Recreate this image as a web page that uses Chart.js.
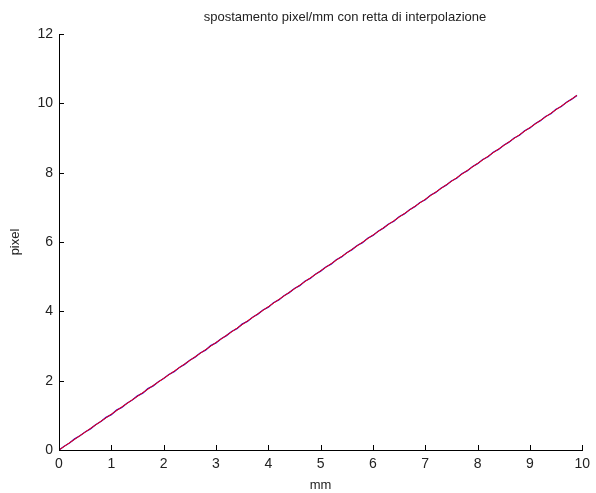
<!DOCTYPE html>
<html>
<head>
<meta charset="utf-8">
<script src="https://cdn.jsdelivr.net/npm/chart.js@4/dist/chart.umd.min.js"></script>
<style>
  html, body { margin: 0; padding: 0; background: #fff; }
  #wrap { width: 596px; height: 493px; }
</style>
</head>
<body>
<div id="wrap"><canvas id="c" width="596" height="493"></canvas></div>
<script>
// Measured displacement (mm -> pixel)
const mm = [0.0,0.1,0.2,0.3,0.4,0.5,0.6,0.7,0.8,0.9,
            1.0,1.1,1.2,1.3,1.4,1.5,1.6,1.7,1.8,1.9,
            2.0,2.1,2.2,2.3,2.4,2.5,2.6,2.7,2.8,2.9,
            3.0,3.1,3.2,3.3,3.4,3.5,3.6,3.7,3.8,3.9,
            4.0,4.1,4.2,4.3,4.4,4.5,4.6,4.7,4.8,4.9,
            5.0,5.1,5.2,5.3,5.4,5.5,5.6,5.7,5.8,5.9,
            6.0,6.1,6.2,6.3,6.4,6.5,6.6,6.7,6.8,6.9,
            7.0,7.1,7.2,7.3,7.4,7.5,7.6,7.7,7.8,7.9,
            8.0,8.1,8.2,8.3,8.4,8.5,8.6,8.7,8.8,8.9,
            9.0,9.1,9.2,9.3,9.4,9.5,9.6,9.7,9.8,9.9];
const pixel = [0.00,0.11,0.20,0.32,0.41,0.52,0.61,0.73,0.82,0.94,
               1.02,1.15,1.23,1.35,1.44,1.56,1.64,1.77,1.85,1.97,
               2.06,2.18,2.26,2.38,2.47,2.59,2.68,2.80,2.88,3.01,
               3.09,3.21,3.30,3.42,3.50,3.63,3.71,3.83,3.92,4.04,
               4.12,4.25,4.33,4.45,4.54,4.66,4.74,4.87,4.95,5.07,
               5.16,5.28,5.36,5.49,5.57,5.69,5.78,5.90,5.98,6.11,
               6.19,6.31,6.40,6.52,6.60,6.73,6.81,6.93,7.02,7.14,
               7.22,7.35,7.43,7.55,7.64,7.76,7.84,7.97,8.05,8.17,
               8.26,8.38,8.46,8.59,8.67,8.79,8.88,9.00,9.08,9.21,
               9.29,9.41,9.50,9.62,9.70,9.83,9.91,10.03,10.12,10.23];

// Interpolating straight line (end points)
const fitMm = [0, 9.9];
const fitPixel = [0, 10.23];

// Axis ticks
const xTicks = [0,1,2,3,4,5,6,7,8,9,10];
const yTicks = [0,2,4,6,8,10,12];

const titleText = 'spostamento pixel/mm con retta di interpolazione';
const FONT = '"Liberation Sans", Arial, sans-serif';

const measured = mm.map((x, i) => ({ x, y: pixel[i] }));
const fit = fitMm.map((x, i) => ({ x, y: fitPixel[i] }));

// Inward tick marks and title, MATLAB style
const decor = {
  id: 'decor',
  afterDraw(chart) {
    const ctx = chart.ctx;
    const xs = chart.scales.x, ys = chart.scales.y;
    const len = 5;
    ctx.save();
    ctx.strokeStyle = '#000';
    ctx.lineWidth = 1;
    ctx.beginPath();
    xTicks.forEach(v => {
      const px = Math.round(xs.getPixelForValue(v)) + 0.5;
      ctx.moveTo(px, ys.bottom);
      ctx.lineTo(px, ys.bottom - len);
    });
    yTicks.forEach(v => {
      const py = Math.round(ys.getPixelForValue(v)) + 0.5;
      ctx.moveTo(xs.left, py);
      ctx.lineTo(xs.left + len, py);
    });
    ctx.stroke();
    ctx.fillStyle = '#222';
    ctx.font = '13px ' + FONT;
    ctx.textAlign = 'center';
    ctx.textBaseline = 'alphabetic';
    ctx.fillText(titleText, 345, 21);
    ctx.restore();
  }
};

new Chart(document.getElementById('c'), {
  type: 'scatter',
  data: {
    datasets: [
      {
        data: measured,
        showLine: true,
        borderColor: 'rgb(40,0,200)',
        borderWidth: 1.3,
        pointRadius: 0,
        tension: 0,
        order: 2
      },
      {
        data: fit,
        showLine: true,
        borderColor: 'rgb(255,0,0)',
        borderWidth: 1,
        pointRadius: 0,
        tension: 0,
        order: 1
      }
    ]
  },
  options: {
    responsive: false,
    animation: false,
    events: [],
    layout: { padding: { top: 34, right: 9, left: 0, bottom: 0 } },
    plugins: {
      legend: { display: false },
      tooltip: { enabled: false },
      title: { display: false }
    },
    scales: {
      x: {
        type: 'linear',
        min: 0, max: 10,
        afterBuildTicks: s => { s.ticks = xTicks.map(v => ({ value: v })); },
        afterFit: s => { s.height = 43; },
        grid: { display: false, drawTicks: false },
        border: { display: true, color: '#000', width: 1 },
        ticks: { color: '#222', font: { family: FONT, size: 14 }, padding: 6, maxRotation: 0, autoSkip: false },
        title: { display: true, text: 'mm', color: '#222', font: { family: FONT, size: 13 }, padding: { top: 0, bottom: 0 } }
      },
      y: {
        type: 'linear',
        min: 0, max: 12,
        afterBuildTicks: s => { s.ticks = yTicks.map(v => ({ value: v })); },
        afterFit: s => { s.width = 59; },
        grid: { display: false, drawTicks: false },
        border: { display: true, color: '#000', width: 1 },
        ticks: { color: '#222', font: { family: FONT, size: 14 }, padding: 6, autoSkip: false },
        title: { display: true, text: 'pixel', color: '#222', font: { family: FONT, size: 13 }, padding: { top: 8, bottom: 0 } }
      }
    }
  },
  plugins: [decor]
});
</script>
</body>
</html>
